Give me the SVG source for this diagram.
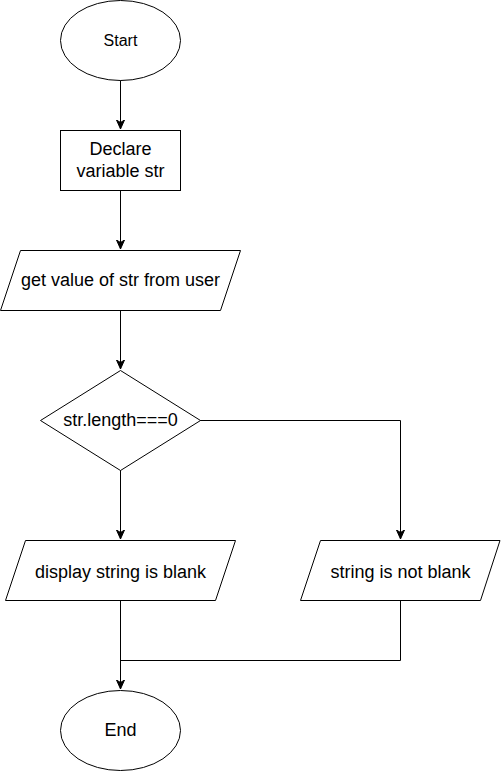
<svg xmlns="http://www.w3.org/2000/svg" width="501" height="771" viewBox="0 0 501 771">
<style>
.shape{fill:#ffffff;stroke:#000000;stroke-width:1}
.edge{fill:none;stroke:#000000;stroke-width:1}
text{font-family:"Liberation Sans",Arial,sans-serif;fill:#000000;text-anchor:middle}
.t{font-size:18px}
.s{font-size:16px}
</style>
<defs>
<marker id="arrow" viewBox="0 0 10 10" refX="9" refY="5" markerWidth="10" markerHeight="10" markerUnits="userSpaceOnUse" orient="auto">
<path d="M0,1 L9,5 L0,9 L2.5,5 Z" fill="#000000" stroke="#000000" stroke-width="1"/>
</marker>
</defs>
<rect width="501" height="771" fill="#ffffff"/>
<g id="connectors">
<path class="edge" d="M120.5,80 L120.5,129" marker-end="url(#arrow)"/>
<path class="edge" d="M120.5,190 L120.5,249" marker-end="url(#arrow)"/>
<path class="edge" d="M120.5,310 L120.5,369" marker-end="url(#arrow)"/>
<path class="edge" d="M120.5,470 L120.5,539" marker-end="url(#arrow)"/>
<path class="edge" d="M200,420.5 L400.5,420.5 L400.5,539" marker-end="url(#arrow)"/>
<path class="edge" d="M120.5,600 L120.5,689" marker-end="url(#arrow)"/>
<path class="edge" d="M400.5,600 L400.5,660.5 L120.5,660.5"/>
</g>
<g id="start">
<ellipse class="shape" cx="120.5" cy="40.5" rx="60" ry="40"/>
<text class="s" x="120.5" y="46">Start</text>
</g>
<g id="declare">
<rect class="shape" x="60.5" y="130.5" width="120" height="60"/>
<text class="t" x="120.5" y="155">Declare</text>
<text class="t" x="120.5" y="176.5">variable str</text>
</g>
<g id="input">
<path class="shape" d="M20.5,250.5 L240.5,250.5 L220.5,310.5 L0.5,310.5 Z"/>
<text class="t" x="120.5" y="286">get value of str from user</text>
</g>
<g id="decision">
<path class="shape" d="M120.5,370.5 L200.5,420.5 L120.5,470.5 L40.5,420.5 Z"/>
<text class="t" x="120.5" y="426">str.length===0</text>
</g>
<g id="blank">
<path class="shape" d="M25.5,540.5 L235.5,540.5 L215.5,600.5 L5.5,600.5 Z"/>
<text class="t" x="120.5" y="577.5">display string is blank</text>
</g>
<g id="notblank">
<path class="shape" d="M320.5,540.5 L500,540.5 L480.5,600.5 L300.5,600.5 Z"/>
<text class="t" x="400.5" y="577.5">string is not blank</text>
</g>
<g id="end">
<ellipse class="shape" cx="120.5" cy="730.5" rx="60" ry="40"/>
<text class="t" x="120.5" y="736">End</text>
</g>
</svg>
